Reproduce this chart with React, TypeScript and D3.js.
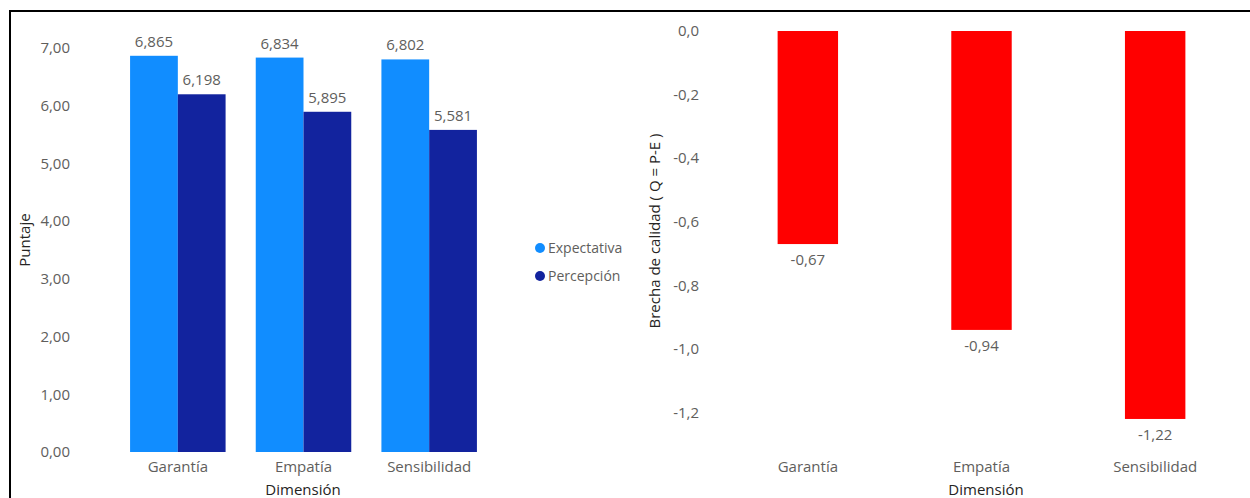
import React from "react";
import * as d3 from "d3";

const categories = ["Garantía", "Empatía", "Sensibilidad"];
const seriesNames = ["Expectativa", "Percepción"];
const expectativa = [6.865, 6.834, 6.802];
const percepcion = [6.198, 5.895, 5.581];
const brecha = [-0.67, -0.94, -1.22];
const leftTicks = [0, 1, 2, 3, 4, 5, 6, 7];
const rightTicks = [0, -0.2, -0.4, -0.6, -0.8, -1.0, -1.2];

const seriesColors = ["#118DFF", "#12239E"];
const gapColor = "#FF0000";
const tickColor = "#605E5C";
const titleColor = "#252423";
const FONT = "'Open Sans', 'Noto Sans', sans-serif";
const FS = 15;

const fmt3 = (v: number) => d3.format(".3f")(v).replace(".", ",");
const fmt2 = (v: number) => d3.format(".2f")(v).replace(".", ",").replace("−", "-");
const fmt1 = (v: number) => d3.format(".1f")(v).replace(".", ",").replace("−", "-");

export default function App() {
  const W = 1250;
  const H = 498;

  // Left grouped chart
  const xL = d3.scaleBand<string>().domain(categories).range([115, 492]).paddingInner(0.24).paddingOuter(0.12);
  const xSub = d3.scaleBand<string>().domain(seriesNames).range([0, xL.bandwidth()]);
  const yL = d3.scaleLinear().domain([0, 7]).range([452, 48]);
  const values = [expectativa, percepcion];

  // Right gap chart
  const xR = d3.scaleBand<string>().domain(categories).range([721, 1242]).paddingInner(0.652).paddingOuter(0.326);
  const yR = d3.scaleLinear().domain([-1.3, 0]).range([444.4, 31]);

  return (
    <svg width={W} height={H} style={{ position: "absolute", left: 0, top: 0, display: "block", background: "#fff" }} fontFamily={FONT}>
      {/* frame */}
      <line x1={10} y1={11} x2={W} y2={11} stroke="#000" strokeWidth={2} />
      <line x1={10} y1={10} x2={10} y2={H} stroke="#000" strokeWidth={2} />

      {/* left y axis */}
      {leftTicks.map((t) => (
        <text key={t} x={70} y={yL(t)} dy="0.35em" textAnchor="end" fontSize={FS} fill={tickColor}>
          {fmt2(t)}
        </text>
      ))}
      <text transform={`translate(30,240) rotate(-90)`} textAnchor="middle" fontSize={FS} fill={titleColor}>
        Puntaje
      </text>

      {/* left bars */}
      {categories.map((c, i) => (
        <g key={c} transform={`translate(${xL(c)},0)`}>
          {seriesNames.map((s, j) => {
            const v = values[j][i];
            const x = xSub(s)!;
            return (
              <g key={s}>
                <rect x={x} y={yL(v)} width={xSub.bandwidth()} height={yL(0) - yL(v)} fill={seriesColors[j]} />
                <text x={x + xSub.bandwidth() / 2} y={yL(v) - 9} textAnchor="middle" fontSize={FS} fill={tickColor}>
                  {fmt3(v)}
                </text>
              </g>
            );
          })}
          <text x={xL.bandwidth() / 2} y={472} textAnchor="middle" fontSize={FS} fill={tickColor}>
            {c}
          </text>
        </g>
      ))}
      <text x={303} y={495} textAnchor="middle" fontSize={FS} fill={titleColor}>
        Dimensión
      </text>

      {/* legend */}
      {seriesNames.map((s, j) => (
        <g key={s} transform={`translate(540,${248 + j * 28})`}>
          <circle r={5} fill={seriesColors[j]} />
          <text x={8} y={5} fontSize={14} fill={tickColor}>
            {s}
          </text>
        </g>
      ))}

      {/* right y axis */}
      {rightTicks.map((t) => (
        <text key={t} x={699} y={yR(t)} dy="0.35em" textAnchor="end" fontSize={FS} fill={tickColor}>
          {t === 0 ? "0,0" : fmt1(t)}
        </text>
      ))}
      <text transform={`translate(660,231) rotate(-90)`} textAnchor="middle" fontSize={FS} fill={titleColor}>
        Brecha de calidad ( Q = P-E )
      </text>

      {/* right bars */}
      {categories.map((c, i) => {
        const v = brecha[i];
        const x = xR(c)!;
        return (
          <g key={c}>
            <rect x={x} y={yR(0)} width={xR.bandwidth()} height={yR(v) - yR(0)} fill={gapColor} />
            <text x={x + xR.bandwidth() / 2} y={yR(v) + 21} textAnchor="middle" fontSize={FS} fill={tickColor}>
              {fmt2(v)}
            </text>
            <text x={x + xR.bandwidth() / 2} y={472} textAnchor="middle" fontSize={FS} fill={tickColor}>
              {c}
            </text>
          </g>
        );
      })}
      <text x={986} y={495} textAnchor="middle" fontSize={FS} fill={titleColor}>
        Dimensión
      </text>
    </svg>
  );
}
